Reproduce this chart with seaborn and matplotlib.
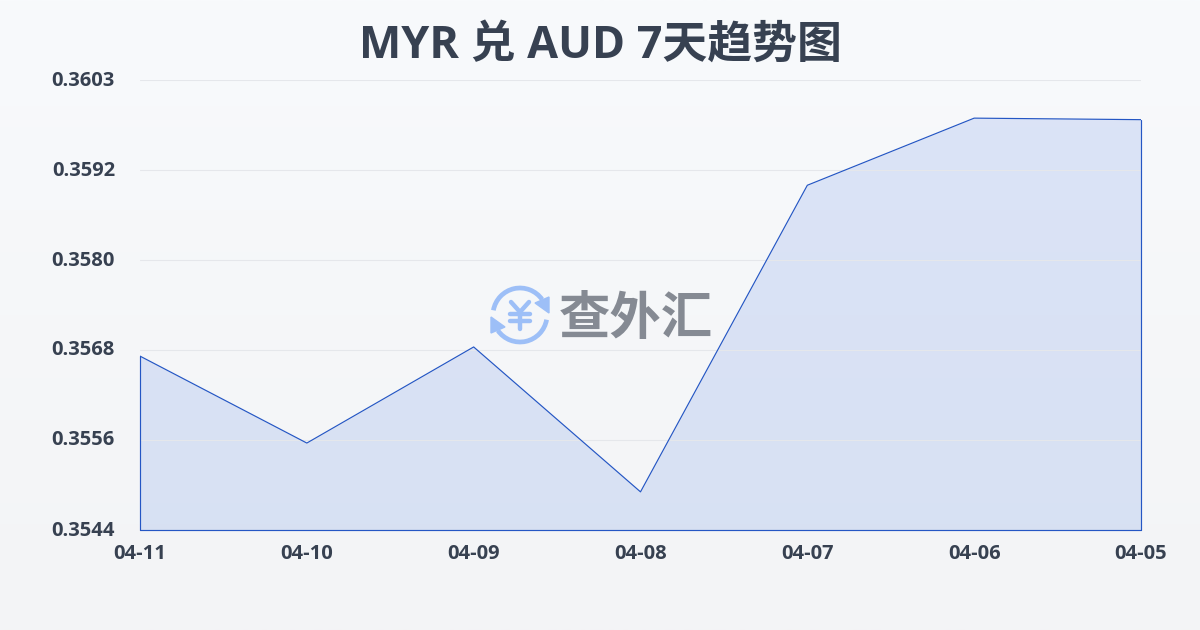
"""
MYR / AUD 7 day trend
"""
import matplotlib
matplotlib.use('Agg')
import matplotlib.pyplot as plt
from matplotlib.patches import Arc, Polygon
from matplotlib.transforms import ScaledTranslation
import numpy as np
import pandas as pd
import seaborn as sns

# values
dates = ['04-11', '04-10', '04-09', '04-08', '04-07', '04-06', '04-05']
rates = [0.35668, 0.35554, 0.35680, 0.35490, 0.35892, 0.35980, 0.35978]
y_ticks = [0.3544, 0.35558, 0.35676, 0.35794, 0.35912, 0.3603]
y_labels = ['0.3544', '0.3556', '0.3568', '0.3580', '0.3592', '0.3603']
title = 'MYR 兑 AUD 7天趋势图'
logo_text = '查外汇'

sns.set_theme(style='white')
plt.rcParams['font.family'] = ['Open Sans', 'Noto Sans CJK SC', 'DejaVu Sans']

TEXT = '#374151'
BLUE = '#2456c4'
W, H = 1200, 630

df = pd.DataFrame({'date': dates, 'rate': rates})
df['pos'] = range(len(df))

fig = plt.figure(figsize=(12, 6.3), dpi=100)

# page background, light vertical gradient
bg = fig.add_axes([0, 0, 1, 1], zorder=0)
bg.imshow(np.linspace(0, 1, 256).reshape(-1, 1), aspect='auto', extent=[0, 1, 0, 1],
          cmap=matplotlib.colors.LinearSegmentedColormap.from_list('bg', ['#f8fafc', '#f3f4f6']))
bg.axis('off')

ax = fig.add_axes([140 / W, 1 - 530 / H, 1001 / W, 450 / H], zorder=1)
ax.patch.set_alpha(0)

ax.fill_between(df['pos'], df['rate'], 0.3544, color='#3b6fe0', alpha=0.15, linewidth=0)
sns.lineplot(data=df, x='pos', y='rate', ax=ax, color=BLUE, linewidth=0.85)
# area outline comes back down and along the bottom
ax.plot([0, 0], [0.3544, rates[0]], color=BLUE, linewidth=0.85, clip_on=False)
ax.plot([6, 6], [0.3544, rates[-1]], color=BLUE, linewidth=0.85, clip_on=False)
ax.plot([0, 6], [0.3544, 0.3544], color=BLUE, linewidth=0.85, clip_on=False)

ax.set_xlim(0, 6)
ax.set_ylim(0.3544, 0.3603)
ax.set_xticks(df['pos'])
ax.set_xticklabels(dates, fontsize=14.5, fontweight='bold', color=TEXT)
ax.set_yticks(y_ticks)
ax.set_yticklabels(y_labels, fontsize=14.5, fontweight='bold', color=TEXT)
# grid over the area but under the line
ax.grid(axis='y', color='#e5e7eb', linewidth=0.8)
ax.set_axisbelow('line')
ax.tick_params(axis='x', length=5, width=0.8, color='#e5e7eb', pad=5)
ax.tick_params(axis='y', length=0, pad=18)
# y labels sit a bit above their grid lines
for lbl in ax.get_yticklabels():
    lbl.set_transform(lbl.get_transform() + ScaledTranslation(0, 2 / 100, fig.dpi_scale_trans))
ax.set_xlabel('')
ax.set_ylabel('')
sns.despine(ax=ax, left=True, bottom=True, right=True, top=True)

fig.text(0.5, 1 - 46 / H, title, ha='center', va='center', fontsize=32.3,
         fontweight='bold', color=TEXT)

# watermark logo, in pixel coordinates
logo = fig.add_axes([0, 0, 1, 1], zorder=2)
logo.set_xlim(0, W)
logo.set_ylim(H, 0)
logo.axis('off')
ICON = '#9dbff7'
logo.add_patch(Arc((520, 315), 54, 54, theta1=190, theta2=325, color=ICON, lw=3.4))
logo.add_patch(Arc((520, 315), 54, 54, theta1=10, theta2=145, color=ICON, lw=3.4))
logo.add_patch(Polygon([[549, 297], [549, 313], [535, 303]], color=ICON))
logo.add_patch(Polygon([[491, 317], [491, 333], [505, 327]], color=ICON))
logo.plot([511, 520, 529], [302, 312, 302], color=ICON, lw=3.2, solid_capstyle='round')
logo.plot([520, 520], [312, 329], color=ICON, lw=3.2, solid_capstyle='round')
logo.plot([510, 530], [314, 314], color=ICON, lw=3.2, solid_capstyle='round')
logo.plot([510, 530], [321, 321], color=ICON, lw=3.2, solid_capstyle='round')
logo.text(636, 321, logo_text, ha='center', va='center', fontsize=37, fontweight='bold',
          color='#858a93')

fig.savefig('out.png', dpi=100)
